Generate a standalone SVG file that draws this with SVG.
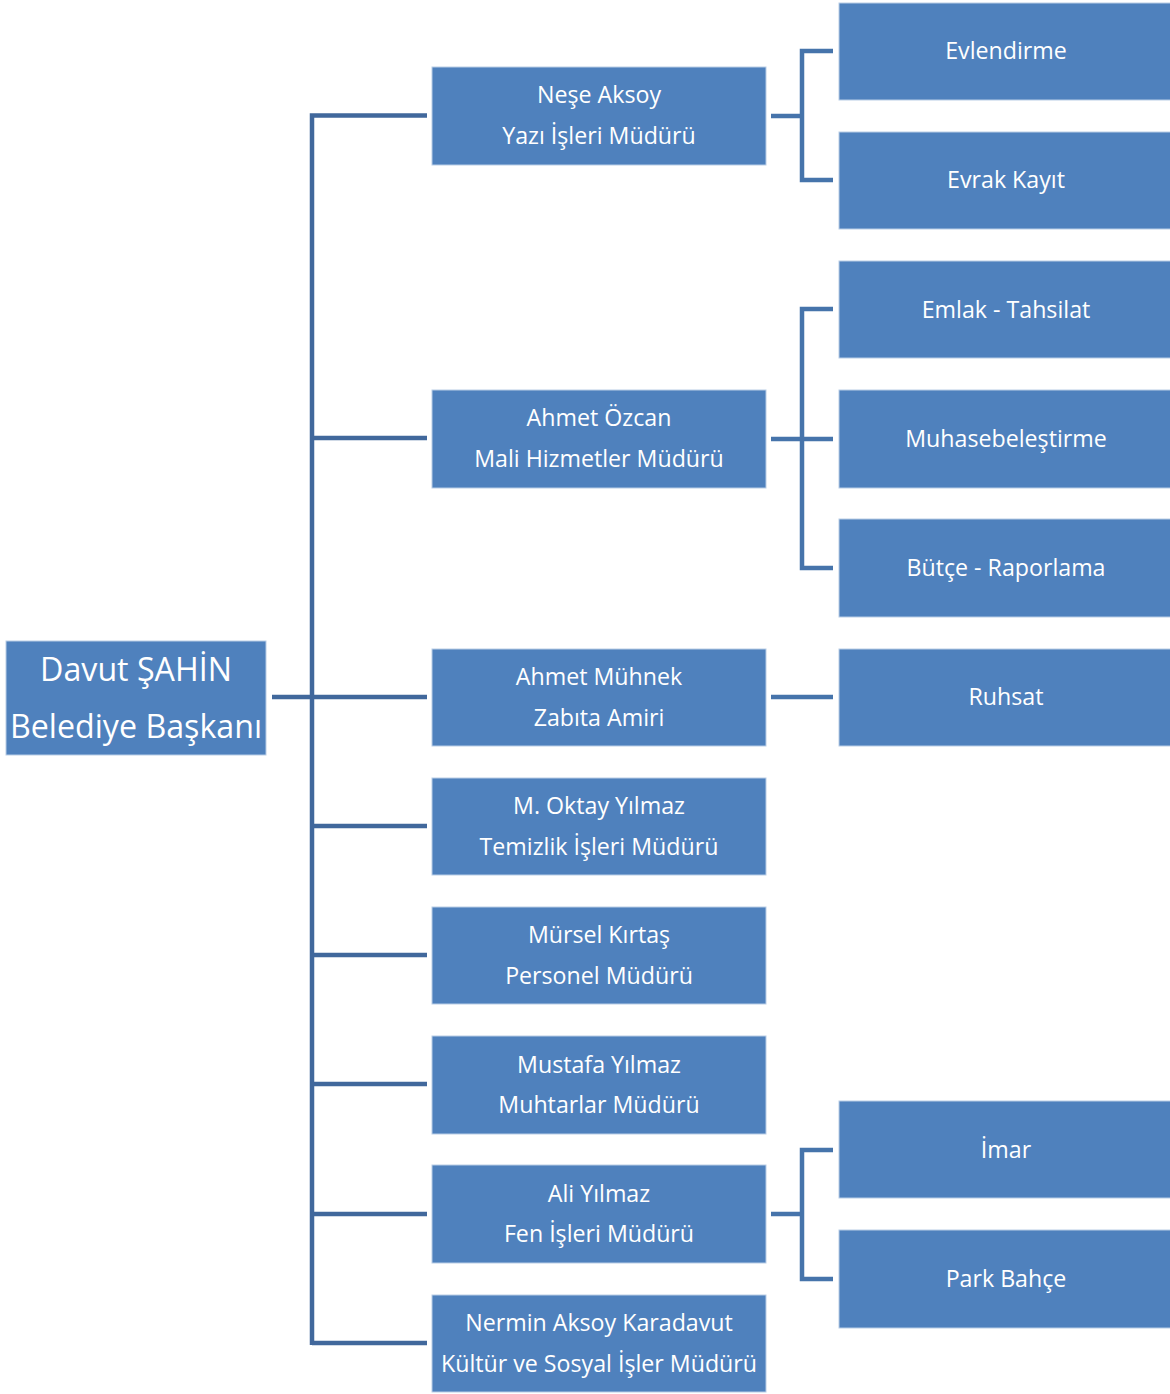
<svg xmlns="http://www.w3.org/2000/svg" width="1170" height="1394" viewBox="0 0 1170 1394">
<style>
.b{fill:#4f81bd;stroke:#b9cde6;stroke-width:1}
.t{fill:#fff;font-family:"Open Sans","Liberation Sans",sans-serif;font-size:23.2px;text-anchor:middle;dominant-baseline:central}
.r{font-size:32.2px}
.tr{fill:none;stroke:#41689c;stroke-width:4.5}
.sc{fill:none;stroke:#4674ab;stroke-width:4.5}
</style>
<rect width="1170" height="1394" fill="#fff"/>
<g id="connectors">
<path class="tr" d="M312 1345V115.5H427M312 438H427M312 697H427M312 826H427M312 955H427M312 1084H427M312 1214H427M312 1343H427M272 697H312"/>
<path class="sc" d="M771 116H802M833 51H802V180H833"/>
<path class="sc" d="M771 439H833M833 309H802V568H833"/>
<path class="sc" d="M771 697H833"/>
<path class="sc" d="M771 1214H802M833 1150H802V1279H833"/>
</g>
<g id="root"><rect class="b" x="6" y="641" width="260" height="114"/><text class="t r" x="136" y="668">Davut ŞAHİN</text><text class="t r" x="136" y="725">Belediye Başkanı</text></g>
<g id="n1"><rect class="b" x="432" y="67" width="334" height="98"/><text class="t" x="599" y="94">Neşe Aksoy</text><text class="t" x="599" y="135">Yazı İşleri Müdürü</text></g>
<g id="n2"><rect class="b" x="432" y="390" width="334" height="98"/><text class="t" x="599" y="417">Ahmet Özcan</text><text class="t" x="599" y="458">Mali Hizmetler Müdürü</text></g>
<g id="n3"><rect class="b" x="432" y="649" width="334" height="97"/><text class="t" x="599" y="676">Ahmet Mühnek</text><text class="t" x="599" y="717">Zabıta Amiri</text></g>
<g id="n4"><rect class="b" x="432" y="778" width="334" height="97"/><text class="t" x="599" y="805">M. Oktay Yılmaz</text><text class="t" x="599" y="846">Temizlik İşleri Müdürü</text></g>
<g id="n5"><rect class="b" x="432" y="907" width="334" height="97"/><text class="t" x="599" y="934">Mürsel Kırtaş</text><text class="t" x="599" y="975">Personel Müdürü</text></g>
<g id="n6"><rect class="b" x="432" y="1036" width="334" height="98"/><text class="t" x="599" y="1064">Mustafa Yılmaz</text><text class="t" x="599" y="1104">Muhtarlar Müdürü</text></g>
<g id="n7"><rect class="b" x="432" y="1165" width="334" height="98"/><text class="t" x="599" y="1193">Ali Yılmaz</text><text class="t" x="599" y="1233">Fen İşleri Müdürü</text></g>
<g id="n8"><rect class="b" x="432" y="1295" width="334" height="97"/><text class="t" x="599" y="1322">Nermin Aksoy Karadavut</text><text class="t" x="599" y="1363">Kültür ve Sosyal İşler Müdürü</text></g>
<g id="c1"><rect class="b" x="839" y="3" width="335" height="97"/><text class="t" x="1006" y="50">Evlendirme</text></g>
<g id="c2"><rect class="b" x="839" y="132" width="335" height="97"/><text class="t" x="1006" y="179">Evrak Kayıt</text></g>
<g id="c3"><rect class="b" x="839" y="261" width="335" height="97"/><text class="t" x="1006" y="309">Emlak - Tahsilat</text></g>
<g id="c4"><rect class="b" x="839" y="390" width="335" height="98"/><text class="t" x="1006" y="438">Muhasebeleştirme</text></g>
<g id="c5"><rect class="b" x="839" y="519" width="335" height="98"/><text class="t" x="1006" y="567">Bütçe - Raporlama</text></g>
<g id="c6"><rect class="b" x="839" y="649" width="335" height="97"/><text class="t" x="1006" y="696">Ruhsat</text></g>
<g id="c7"><rect class="b" x="839" y="1101" width="335" height="97"/><text class="t" x="1006" y="1149">İmar</text></g>
<g id="c8"><rect class="b" x="839" y="1230" width="335" height="98"/><text class="t" x="1006" y="1278">Park Bahçe</text></g>
</svg>
